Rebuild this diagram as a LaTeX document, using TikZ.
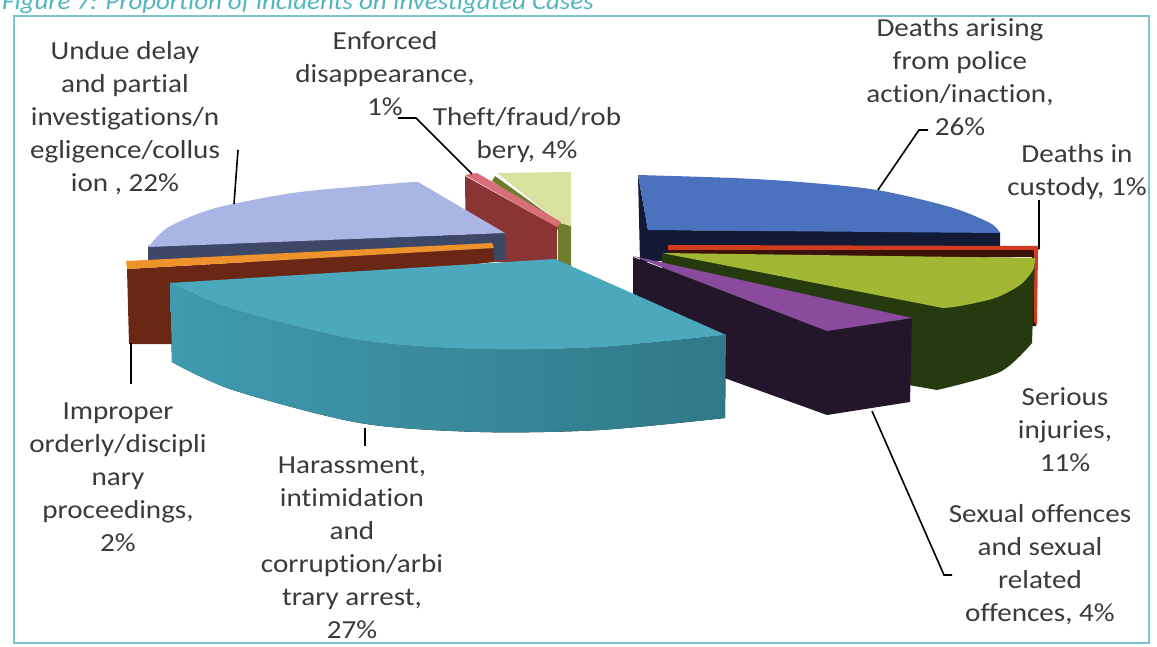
\documentclass[tikz,border=0pt]{standalone}
\usepackage{fontspec}
\setmainfont{Carlito}[FakeStretch=1.12,Ligatures=NoCommon]
\definecolor{txtgray}{HTML}{3A3A3A}
\definecolor{titleteal}{HTML}{52B4C0}
\definecolor{framecol}{HTML}{7CC3CC}
\definecolor{lavtop}{HTML}{A9B5E5}
\definecolor{lavside}{HTML}{3D4868}
\definecolor{orangetop}{HTML}{EE922C}
\definecolor{brownside}{HTML}{6A2814}
\definecolor{tealtop}{HTML}{4CA8BC}
\definecolor{tealsideL}{HTML}{3F9BAF}
\definecolor{tealsideR}{HTML}{317888}
\definecolor{redtop}{HTML}{D86E78}
\definecolor{redside}{HTML}{8A3434}
\definecolor{paletop}{HTML}{D9E19E}
\definecolor{oliveside}{HTML}{6E7E2E}
\definecolor{bluetop}{HTML}{4A72BE}
\definecolor{navyside}{HTML}{121A36}
\definecolor{custred}{HTML}{D23C1E}
\definecolor{custdark}{HTML}{3A1208}
\definecolor{greentop}{HTML}{A2B834}
\definecolor{greenside}{HTML}{263A10}
\definecolor{purpletop}{HTML}{8A4A9E}
\definecolor{purpleside}{HTML}{23152A}
\begin{document}
\begin{tikzpicture}[x=1pt,y=-1pt,
  lbl/.style={align=center,text=txtgray,font=\fontsize{26}{33}\selectfont,inner sep=0pt},
  conn/.style={draw=black,line width=1.6pt}]
\useasboundingbox (0,0) rectangle (1157,647);
\fill[white] (0,0) rectangle (1157,647);
\node[anchor=base west,text=titleteal,font=\itshape\fontsize{24}{28}\selectfont,inner sep=0pt] (title) at (2,10) {Figure 7: Proportion of incidents on Investigated Cases};
\draw[framecol,line width=1.2pt] (14,16) rectangle (1149,643);

% Theft/fraud/robbery
\fill[oliveside] (495,176) -- (560,223) -- (571,226) -- (571,268) -- (558,268) -- (558,230) -- (492,181) -- cycle;
\fill[paletop] (497,173) -- (571,172) -- (571,226) -- (560,223) -- cycle;
% Enforced disappearance
\fill[redside] (465,176) -- (557,227) -- (557,262) -- (466,262) -- cycle;
\fill[redtop] (465,175) -- (477,173) -- (561,222) -- (557,227) -- cycle;
% Undue delay
\fill[lavside] (148,246) -- (505,233) -- (505,260) -- (148,263) -- cycle;
\fill[lavtop] (505,233) -- (418,182) -- plot[smooth] coordinates {(418,182) (400,183) (300,192) (233,204) (200,213) (167,228) (148,247)} -- cycle;
% Improper orderly
\fill[brownside] (127,269) -- (494,248) -- (494,262) -- (172,300) -- (172,344) -- (129,344) -- cycle;
\fill[orangetop] (126,261) -- (492,243) -- (494,248) -- (127,269) -- cycle;
% Deaths arising
\fill[navyside] (638,175) -- (648,230) -- (1000,232) -- (1000,247) -- (640,262) -- cycle;
\fill[bluetop] (638,175) -- plot[smooth] coordinates {(638,175) (733,178) (800,182) (877,190) (950,207) (990,223) (1000,233)} -- (648,230) -- cycle;
% Deaths in custody
\fill[custdark] (668,250) -- (1036,250) -- (1036,326) -- (1032,326) -- (1032,257) -- (668,257) -- cycle;
\fill[custred] (668,245) -- (1039,246) -- (1039,250) -- (668,250) -- cycle;
\fill[custred] (1034,250) -- (1038,250) -- (1037,325) -- (1034,322) -- cycle;
% Serious injuries
\fill[greenside] (662,254) -- (1035,258) -- (1032,343) -- plot[smooth] coordinates {(1032,343) (1000,372) (937,390)} -- (880,380) -- (662,300) -- cycle;
\fill[greentop] (662,253) -- (1035,258) -- plot[smooth] coordinates {(1035,258) (1033,270) (1020,285) (995,298) (960,306) (943,308)} -- cycle;
% Sexual offences
\fill[purpleside] (633,257) -- (827,331) -- (912,318) -- (910,402) -- (827,415) -- (633,345) -- cycle;
\fill[purpletop] (633,256) -- (912,318) -- (827,331) -- cycle;
% Harassment
\fill[left color=tealsideL,right color=tealsideR] (170,283) -- plot[smooth] coordinates {(172,362) (233,390) (360,423) (480,432) (600,430) (725,418)} -- (726,335) -- plot[smooth] coordinates {(726,335) (600,347) (480,349) (360,340) (233,309) (170,283)} -- cycle;
\fill[tealtop] (170,283) -- (555,259) -- (726,335) -- plot[smooth] coordinates {(726,335) (600,347) (480,349) (360,340) (233,309) (170,283)} -- cycle;

% labels
\node[lbl] (lundue) at (125,118) {Undue delay\\and partial\\investigations/n\\egligence/collus\\ion , 22\%};
\node[lbl] (lenf) at (385,74) {Enforced\\disappearance,\\1\%};
\node[lbl] (ltheft) at (527,135) {Theft/fraud/rob\\bery, 4\%};
\node[lbl] (ldeath) at (960,77) {Deaths arising\\from police\\action/inaction,\\26\%};
\node[lbl] (lcust) at (1077,172) {Deaths in\\custody, 1\%};
\node[lbl] (lser) at (1065,430) {Serious\\injuries,\\11\%};
\node[lbl] (lsex) at (1040,565) {Sexual offences\\and sexual\\related\\offences, 4\%};
\node[lbl] (lhar) at (352,548) {Harassment,\\intimidation\\and\\corruption/arbi\\trary arrest,\\27\%};
\node[lbl] (limp) at (118,477) {Improper\\orderly/discipli\\nary\\proceedings,\\2\%};

% connectors
\coordinate (uA) at (238,150); \coordinate (uB) at (234,204);
\draw[conn] (uA) -- (uB);
\coordinate (eA) at (398,118); \coordinate (eB) at (416,118); \coordinate (eC) at (472,174);
\draw[conn] (eA) -- (eB) -- (eC);
\coordinate (dA) at (928,130); \coordinate (dB) at (919,130); \coordinate (dC) at (878,190);
\draw[conn] (dA) -- (dB) -- (dC);
\coordinate (cA) at (1039,200); \coordinate (cB) at (1039,249);
\draw[conn] (cA) -- (cB);
\coordinate (iA) at (131,343); \coordinate (iB) at (131,384);
\draw[conn] (iA) -- (iB);
\coordinate (hA) at (365,428); \coordinate (hB) at (365,446);
\draw[conn] (hA) -- (hB);
\coordinate (sA) at (872,411); \coordinate (sB) at (944,575); \coordinate (sC) at (952,575);
\draw[conn] (sA) -- (sB) -- (sC);
\end{tikzpicture}
\end{document}
